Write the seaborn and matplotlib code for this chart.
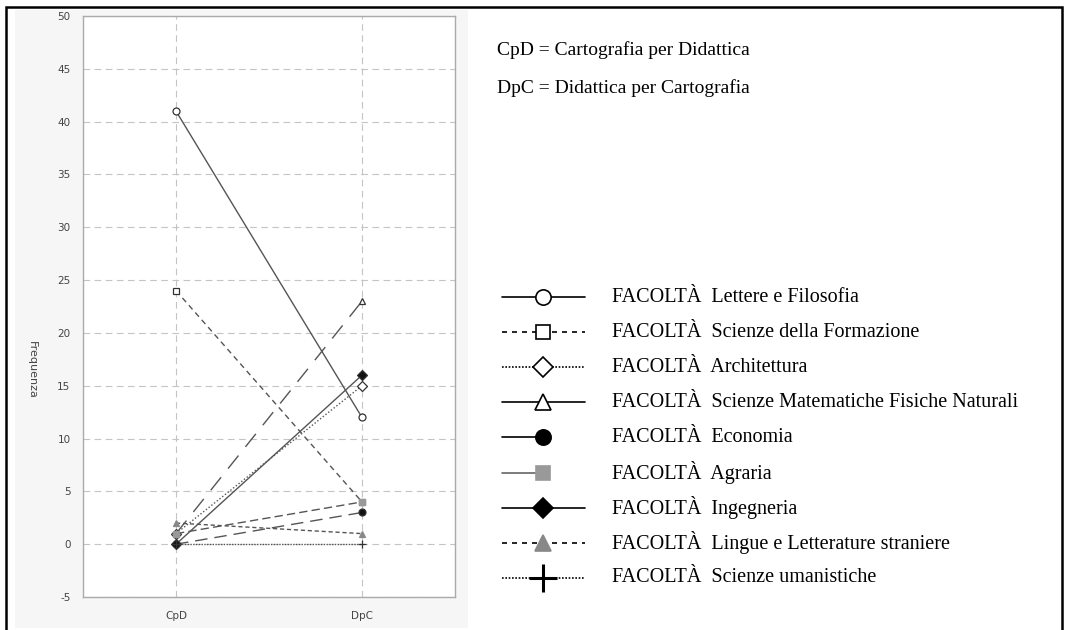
import matplotlib
matplotlib.use("Agg")
import matplotlib.pyplot as plt
from matplotlib.lines import Line2D
from matplotlib.patches import Rectangle
import seaborn as sns
import pandas as pd

# ---- data ----
categories = ["CpD", "DpC"]
facolta = [
    "Lettere e Filosofia",
    "Scienze della Formazione",
    "Architettura",
    "Scienze Matematiche Fisiche Naturali",
    "Economia",
    "Agraria",
    "Ingegneria",
    "Lingue e Letterature straniere",
    "Scienze umanistiche",
]
cpd_values = [41, 24, 1, 1, 0, 1, 0, 2, 0]
dpc_values = [12, 4, 15, 23, 3, 4, 16, 1, 0]
header_lines = ["CpD = Cartografia per Didattica", "DpC = Didattica per Cartografia"]
y_label = "Frequenza"
y_ticks = list(range(-5, 51, 5))

rows = []
for f, a, b in zip(facolta, cpd_values, dpc_values):
    rows.append({"facolta": f, "condizione": categories[0], "frequenza": a})
    rows.append({"facolta": f, "condizione": categories[1], "frequenza": b})
df = pd.DataFrame(rows)

# styles: (chart linestyle, legend linestyle, marker, facecolor, edgecolor, half line in legend)
styles = {
    "Lettere e Filosofia": ("-", "-", "o", "white", "black", False),
    "Scienze della Formazione": ((0, (4, 3)), (0, (3, 3)), "s", "white", "black", False),
    "Architettura": ((0, (1, 1.5)), (0, (1, 1)), "D", "white", "black", False),
    "Scienze Matematiche Fisiche Naturali": ((0, (12, 8)), "-", "^", "white", "black", False),
    "Economia": ((0, (9, 5)), "-", "o", "black", "black", True),
    "Agraria": ((0, (6, 3)), "-", "s", "#999999", "#999999", True),
    "Ingegneria": ("-", "-", "D", "black", "black", False),
    "Lingue e Letterature straniere": ((0, (3, 2)), (0, (3, 3)), "^", "#888888", "#888888", False),
    "Scienze umanistiche": ((0, (1, 1)), (0, (1, 1)), "+", "black", "black", False),
}

sns.set_theme(style="white")
plt.rcParams["axes.unicode_minus"] = False
W, H = 1065, 630
fig = plt.figure(figsize=(W / 100, H / 100), dpi=100)
fig.patch.set_facecolor("white")

# light gray panel behind the plot
fig.add_artist(Rectangle((15 / W, 1 - 628 / H), 453 / W, (628 - 10) / H,
                         transform=fig.transFigure, facecolor="#f6f6f6",
                         edgecolor="none", zorder=0))
# outer black frame (bottom edge cut off)
fig.add_artist(Rectangle((6 / W, -0.05), (1062 - 6) / W, 1 - 7 / H + 0.05,
                         transform=fig.transFigure, facecolor="none",
                         edgecolor="black", lw=1.8, zorder=5))

ax = fig.add_axes([83 / W, 1 - 597 / H, (455 - 83) / W, (597 - 16) / H])
ax.set_facecolor("white")
ax.set_zorder(2)

for f in facolta:
    ls, _, mk, fc, ec, _ = styles[f]
    sub = df[df["facolta"] == f]
    sns.lineplot(data=sub, x="condizione", y="frequenza", ax=ax,
                 color="#555555", linestyle=ls, linewidth=1.0,
                 marker=mk, markersize=5 if mk != "+" else 6,
                 markerfacecolor=fc if fc != "black" else "#111111",
                 markeredgecolor=ec if ec != "black" else "#333333",
                 markeredgewidth=0.9, legend=False, sort=False, errorbar=None)

ax.set_xlim(-0.5, 1.5)
ax.set_ylim(-5, 50)
ax.set_yticks(y_ticks)
ax.set_xticks([0, 1])
ax.set_xticklabels(categories)
ax.grid(True, linestyle=(0, (6, 4)), color="#c4c4c4", linewidth=0.8)
ax.set_axisbelow(True)
for s in ax.spines.values():
    s.set_color("#aaaaaa")
    s.set_linewidth(1.0)
ax.tick_params(axis="both", length=0, labelsize=7.5, labelcolor="#444444")
ax.tick_params(axis="y", pad=9)
ax.tick_params(axis="x", pad=10)
ax.set_xlabel("")
ax.set_ylabel("")
fig.text(32 / W, 1 - 370 / H, y_label, rotation=270, ha="center", va="center",
         fontsize=8, color="#444444")

# header text
serif = ["Liberation Serif", "DejaVu Serif"]
fs_head = 14
fs_leg = 14.5
for i, t in enumerate(header_lines):
    fig.text(497 / W, 1 - (50 + 38 * i) / H, t, ha="left", va="center",
             fontsize=fs_head, family=serif, color="black")

# manual legend
x0, x1, xm, xt = 502, 585, 543, 612
for i, f in enumerate(facolta):
    _, lls, mk, fc, ec, half = styles[f]
    y = 1 - (297 + 35.1 * i) / H
    xe = xm if half else x1
    lc = "#666666" if f == "Agraria" else "black"
    fig.add_artist(Line2D([x0 / W, xe / W], [y, y], transform=fig.transFigure,
                          color=lc, linestyle=lls, linewidth=1.2, zorder=6))
    msize = {"o": 11, "s": 10, "D": 10, "^": 12, "+": 20}[mk]
    fig.add_artist(Line2D([xm / W], [y], transform=fig.transFigure, marker=mk,
                          markersize=msize, markerfacecolor=fc, markeredgecolor=ec,
                          markeredgewidth=2.2 if mk == "+" else 1.2,
                          linestyle="none", zorder=7))
    fig.text(xt / W, y, "FACOLTÀ  " + f, ha="left", va="center",
             fontsize=fs_leg, family=serif, color="black")

fig.savefig("out.png", dpi=100)
